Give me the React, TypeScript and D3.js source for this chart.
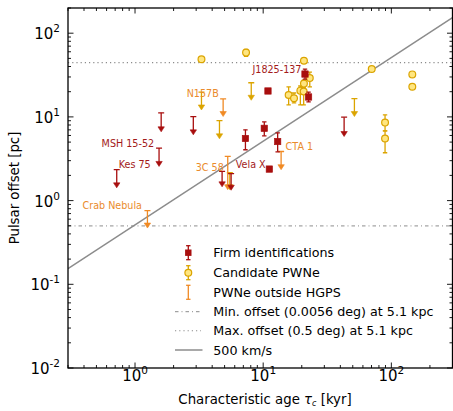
import React from 'react';
import * as d3 from 'd3';

// ---------- data ----------
// Firm identifications: measured offsets [pc] vs characteristic age [kyr]
const firmAge = [21.2, 22.6, 10.9, 10.2, 7.27, 12.97, 11.17];
const firmOffset = [32.5, 17.3, 20.4, 7.3, 5.52, 5.08, 2.38];
const firmErrLo: (number | null)[] = [28.3, 15.1, null, 5.94, 4.05, 3.83, null];
const firmErrHi: (number | null)[] = [37.3, 19.8, null, 8.72, 7.0, 6.45, null];
// Firm identifications: upper limits (limit value, arrow tip)
const firmLimAge = [1.6, 2.85, 1.54, 0.72, 4.78, 5.62, 42.8];
const firmLimTop = [11.2, 10.1, 4.24, 2.34, 2.23, 2.1, 9.92];
const firmLimTip = [6.63, 6.1, 2.56, 1.42, 1.46, 1.33, 5.83];

// Candidate PWNe
const candAge = [3.3, 7.35, 20.8, 23.1, 20.8, 19.5, 20.7, 15.8, 17.4, 70.3, 145.7, 145.7, 89.3, 89.3];
const candOffset = [48.8, 58.6, 46.8, 29.1, 25.0, 20.6, 20.1, 18.3, 16.7, 37.3, 32.2, 22.9, 8.55, 5.52];
const candErrLo: (number | null)[] = [null, 53, null, 22.8, 21.5, 13.9, 13.9, 13.9, 14.7, null, null, null, 6.8, 3.73];
const candErrHi: (number | null)[] = [null, 64, null, 34.3, 27.5, 23.4, 22.5, 22.8, 19.3, null, null, null, 10.6, 6.8];
const candLimAge = [3.3, 4.56, 8.07, 51.5, 5.49];
const candLimTop = [19.8, 9.04, 25.6, 16.5, 2.15];
const candLimTip = [12.1, 5.47, 15.8, 10.1, 1.35];

// PWNe outside HGPS (upper limits)
const outAge = [4.87, 5.29, 1.25, 13.8];
const outTop = [16.4, 3.37, 0.76, 3.86];
const outTip = [10.1, 1.35, 0.47, 2.34];

// Annotations
const labelText = ['J1825-137', 'N157B', 'MSH 15-52', 'Kes 75', '3C 58', 'Vela X', 'CTA 1', 'Crab Nebula'];
const labelAge = [19.9, 4.5, 1.41, 1.325, 4.93, 10.46, 14.96, 1.134];
const labelOffset = [37.0, 18.8, 4.86, 2.68, 2.49, 2.68, 4.39, 0.872];
const labelGroup = ['firm', 'out', 'firm', 'firm', 'out', 'firm', 'out', 'out'];
const labelAnchor = ['end', 'end', 'end', 'end', 'end', 'end', 'start', 'end'];

// Reference lines
const distanceKpc = 5.1;
const minOffsetDeg = 0.0056;
const maxOffsetDeg = 0.5;
const velocityKms = 500;

const xTickValues = [1, 10, 100];
const xTickExp = ['0', '1', '2'];
const yTickValues = [0.01, 0.1, 1, 10, 100];
const yTickExp = ['-2', '-1', '0', '1', '2'];

const legendLabels = [
  'Firm identifications',
  'Candidate PWNe',
  'PWNe outside HGPS',
  'Min. offset (0.0056 deg) at 5.1 kpc',
  'Max. offset (0.5 deg) at 5.1 kpc',
  '500 km/s',
];

// ---------- styles ----------
const W = 453, H = 411;
const FONT = 'DejaVu Sans, sans-serif';
const RED = '#a80e0e';
const GOLD = '#dba400';
const CFILL = '#ffe680';
const ORANGE = '#f08a24';
const LABEL_RED = '#a31a1a';
const LABEL_OR = '#ea8b2c';
const GRAY = '#8c8c8c';

const L = 68, R = 452.5, T = 8, B = 368;

export default function App() {
  const x = d3.scaleLog().domain([0.3, 300]).range([L, R]);
  const y = d3.scaleLog().domain([0.01, 200]).range([B, T]);

  const degToPc = (deg: number) => distanceKpc * 1000 * Math.tan((deg * Math.PI) / 180);
  const minOff = degToPc(minOffsetDeg);
  const maxOff = degToPc(maxOffsetDeg);
  const pcPerKyr = (velocityKms * 3.15576e10) / 3.0857e13;
  const [x0, x1] = x.domain();
  const velLine = d3.line<number>().x((a) => x(a)).y((a) => y(a * pcPerKyr));

  const minorX: number[] = [];
  for (let e = -1; e <= 2; e++) for (let m = 2; m <= 9; m++) {
    const v = m * Math.pow(10, e);
    if (v >= 0.3 && v <= 300) minorX.push(v);
  }
  const minorY: number[] = [];
  for (let e = -2; e <= 2; e++) for (let m = 2; m <= 9; m++) {
    const v = m * Math.pow(10, e);
    if (v <= 200) minorY.push(v);
  }

  const errBar = (cx: number, lo: number, hi: number, color: string, key: string, cap = 2.6) => (
    <g key={key} stroke={color} strokeWidth={1.3}>
      <line x1={cx} x2={cx} y1={y(lo)} y2={y(hi)} />
      <line x1={cx - cap} x2={cx + cap} y1={y(lo)} y2={y(lo)} />
      <line x1={cx - cap} x2={cx + cap} y1={y(hi)} y2={y(hi)} />
    </g>
  );

  const upperLimit = (a: number, top: number, tip: number, color: string, key: string) => {
    const cx = x(a);
    const yt = y(top);
    const yb = y(tip);
    return (
      <g key={key}>
        <line x1={cx} x2={cx} y1={yt} y2={yb - 4} stroke={color} strokeWidth={1.3} />
        <line x1={cx - 3} x2={cx + 3} y1={yt} y2={yt} stroke={color} strokeWidth={1.3} />
        <path d={`M${cx - 3.2},${yb - 5} L${cx + 3.2},${yb - 5} L${cx},${yb} Z`} fill={color} stroke={color} strokeWidth={0.6} />
      </g>
    );
  };

  const legY = [252.7, 272.7, 292.3, 311.7, 330.7, 350];
  const legX = 188.3;
  const legTextX = 213.3;

  return (
    <svg width={W} height={H} style={{ position: 'absolute', left: 0, top: 0, background: '#fff' }} fontFamily={FONT}>
      <defs>
        <clipPath id="plotClip">
          <rect x={L} y={T} width={R - L} height={B - T} />
        </clipPath>
      </defs>

      {/* reference lines */}
      <g clipPath="url(#plotClip)">
        <line x1={L} x2={R} y1={y(minOff)} y2={y(minOff)} stroke={GRAY} strokeWidth={1} strokeDasharray="3.5,3,1,3" />
        <line x1={L} x2={R} y1={y(maxOff)} y2={y(maxOff)} stroke={GRAY} strokeWidth={1.1} strokeDasharray="1.2,3" />
        <path d={velLine([x0, x1]) || ''} stroke={GRAY} strokeWidth={1.5} fill="none" />
      </g>

      {/* candidate PWNe */}
      <g clipPath="url(#plotClip)">
        {candLimAge.map((a, i) => upperLimit(a, candLimTop[i], candLimTip[i], GOLD, `cl${i}`))}
        {candAge.map((a, i) =>
          candErrLo[i] != null && candErrHi[i] != null
            ? errBar(x(a), candErrLo[i] as number, candErrHi[i] as number, GOLD, `ce${i}`, 2.2)
            : null
        )}
        {candAge.map((a, i) => (
          <circle key={`c${i}`} cx={x(a)} cy={y(candOffset[i])} r={3.4} fill={CFILL} stroke={GOLD} strokeWidth={1.2} />
        ))}
      </g>

      {/* outside HGPS */}
      <g clipPath="url(#plotClip)">
        {outAge.map((a, i) => upperLimit(a, outTop[i], outTip[i], ORANGE, `o${i}`))}
      </g>

      {/* firm identifications */}
      <g clipPath="url(#plotClip)">
        {firmLimAge.map((a, i) => upperLimit(a, firmLimTop[i], firmLimTip[i], RED, `fl${i}`))}
        {firmAge.map((a, i) =>
          firmErrLo[i] != null && firmErrHi[i] != null
            ? errBar(x(a), firmErrLo[i] as number, firmErrHi[i] as number, RED, `fe${i}`, 2.2)
            : null
        )}
        {firmAge.map((a, i) => (
          <rect key={`f${i}`} x={x(a) - 3.2} y={y(firmOffset[i]) - 3.2} width={6.4} height={6.4} fill={RED} stroke={RED} strokeWidth={0.6} />
        ))}
      </g>

      {/* annotations */}
      {labelText.map((t, i) => (
        <text key={`lb${i}`} x={x(labelAge[i])} y={y(labelOffset[i]) + 3.4} fontSize={9.6}
          textAnchor={labelAnchor[i] as any} fill={labelGroup[i] === 'firm' ? LABEL_RED : LABEL_OR}>
          {t}
        </text>
      ))}

      {/* legend */}
      <g>
        {errBar(legX, y.invert(legY[0] + 7), y.invert(legY[0] - 7), RED, 'lg0', 2.2)}
        <rect x={legX - 3.2} y={legY[0] - 3.2} width={6.4} height={6.4} fill={RED} />
        {errBar(legX, y.invert(legY[1] + 7), y.invert(legY[1] - 7), GOLD, 'lg1', 2.2)}
        <circle cx={legX} cy={legY[1]} r={3.4} fill={CFILL} stroke={GOLD} strokeWidth={1.2} />
        {errBar(legX, y.invert(legY[2] + 7), y.invert(legY[2] - 7), ORANGE, 'lg2', 2.2)}
        <line x1={175} x2={201} y1={legY[3]} y2={legY[3]} stroke={GRAY} strokeWidth={1} strokeDasharray="3.5,3,1,3" />
        <line x1={175} x2={201} y1={legY[4]} y2={legY[4]} stroke={GRAY} strokeWidth={1.1} strokeDasharray="1.2,3" />
        <line x1={175} x2={202.5} y1={legY[5]} y2={legY[5]} stroke={GRAY} strokeWidth={1.5} />
        {legendLabels.map((t, i) => (
          <text key={`lt${i}`} x={legTextX} y={legY[i] + 4.6} fontSize={12.7} fill="#000">{t}</text>
        ))}
      </g>

      {/* ticks */}
      <g stroke="#000" strokeWidth={0.9}>
        {xTickValues.map((v, i) => (
          <g key={`xt${i}`}>
            <line x1={x(v)} x2={x(v)} y1={B} y2={B - 5.5} />
            <line x1={x(v)} x2={x(v)} y1={T} y2={T + 5.5} />
          </g>
        ))}
        {minorX.map((v, i) => (
          <g key={`xm${i}`}>
            <line x1={x(v)} x2={x(v)} y1={B} y2={B - 3} />
            <line x1={x(v)} x2={x(v)} y1={T} y2={T + 3} />
          </g>
        ))}
        {yTickValues.map((v, i) => (
          <g key={`yt${i}`}>
            <line x1={L} x2={L + 5.5} y1={y(v)} y2={y(v)} />
            <line x1={R} x2={R - 5.5} y1={y(v)} y2={y(v)} />
          </g>
        ))}
        {minorY.map((v, i) => (
          <g key={`ym${i}`}>
            <line x1={L} x2={L + 3} y1={y(v)} y2={y(v)} />
            <line x1={R} x2={R - 3} y1={y(v)} y2={y(v)} />
          </g>
        ))}
      </g>

      {/* frame */}
      <rect x={L} y={T} width={R - L} height={B - T} fill="none" stroke="#000" strokeWidth={1.3} />

      {/* tick labels */}
      {xTickValues.map((v, i) => (
        <text key={`xl${i}`} x={x(v)} y={381} fontSize={15} textAnchor="middle" fill="#000">
          10<tspan dy={-7} fontSize={10.5}>{xTickExp[i]}</tspan>
        </text>
      ))}
      {yTickValues.map((v, i) => (
        <text key={`yl${i}`} x={60} y={y(v) + 6} fontSize={15} textAnchor="end" fill="#000">
          10<tspan dy={-7} fontSize={10.5}>{yTickExp[i]}</tspan>
        </text>
      ))}

      {/* axis titles */}
      <text x={265} y={404} fontSize={13.3} textAnchor="middle" fill="#000">
        Characteristic age <tspan fontStyle="italic">τ</tspan><tspan fontStyle="italic" fontSize={8} dy={2}>c</tspan><tspan dy={-2}> [kyr]</tspan>
      </text>
      <text transform="translate(19,188) rotate(-90)" fontSize={13.3} textAnchor="middle" fill="#000">
        Pulsar offset [pc]
      </text>
    </svg>
  );
}
